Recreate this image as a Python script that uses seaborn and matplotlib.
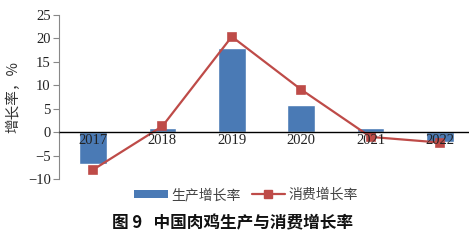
import matplotlib
matplotlib.use("Agg")
import matplotlib.pyplot as plt
import seaborn as sns
import pandas as pd
from matplotlib.patches import Patch
from matplotlib.lines import Line2D

years = ["2017", "2018", "2019", "2020", "2021", "2022"]
production = [-6.7, 1.0, 18.0, 5.8, 0.8, -2.0]
consumption = [-8.0, 1.3, 20.4, 9.1, -1.0, -2.2]

sns.set_theme(style="white")
plt.rcParams['font.family'] = ['Liberation Serif', 'Noto Sans CJK SC', 'DejaVu Sans']

df = pd.DataFrame({"year": years, "prod": production, "cons": consumption})

fig = plt.figure(figsize=(4.69, 2.43), dpi=100)
ax = fig.add_axes([0.126, 0.263, 0.874, 0.675])

bar_c = "#4A7AB5"
line_c = "#BE4B48"

sns.barplot(data=df, x="year", y="prod", color=bar_c, width=0.4, ax=ax, saturation=1)
sns.pointplot(data=df, x="year", y="cons", color=line_c, markers="s", linestyles="-",
              markersize=6.2, linewidth=1.6, ax=ax)

ax.set_axisbelow(False)
ax.set_xlim(-0.49, 5.42)
ax.set_ylim(-10, 25)
ax.set_yticks(range(-10, 26, 5))
ax.tick_params(axis='y', which='both', left=True, length=4, width=0.8, color='#888888',
               labelsize=10.5, pad=2, labelcolor='#222222')
ax.tick_params(axis='x', length=0, labelsize=10.5, pad=1, labelcolor='#222222')
for s in ['top', 'right']:
    ax.spines[s].set_visible(False)
ax.spines['left'].set_color('#888888')
ax.spines['left'].set_linewidth(0.8)
ax.spines['bottom'].set_position(('data', 0))
ax.spines['bottom'].set_color('black')
ax.spines['bottom'].set_linewidth(1.0)
ax.set_xlabel("")
ax.set_ylabel("增长率，%", family=['Noto Sans CJK SC', 'DejaVu Sans'], fontsize=10.5,
              color='#333333')
ax.yaxis.set_label_coords(-0.095, 0.5)

handles = [Patch(facecolor=bar_c, edgecolor='none'),
           Line2D([0], [0], color=line_c, lw=1.6, marker='s', markersize=6.2)]
fig.legend(handles, ["生产增长率", "消费增长率"], loc='center', bbox_to_anchor=(0.525, 0.198),
           ncol=2, frameon=False, prop={'family': ['Noto Sans CJK SC'], 'size': 10},
           labelcolor='#444444', handlelength=2.4, handleheight=0.5, columnspacing=0.8,
           handletextpad=0.25)

fig.text(0.495, 0.082, "图 9   中国肉鸡生产与消费增长率", ha='center', va='center',
         family=['Noto Sans CJK SC', 'DejaVu Sans'], fontsize=12, fontweight='bold',
         color='#111111')

fig.savefig("out.png", dpi=100)
